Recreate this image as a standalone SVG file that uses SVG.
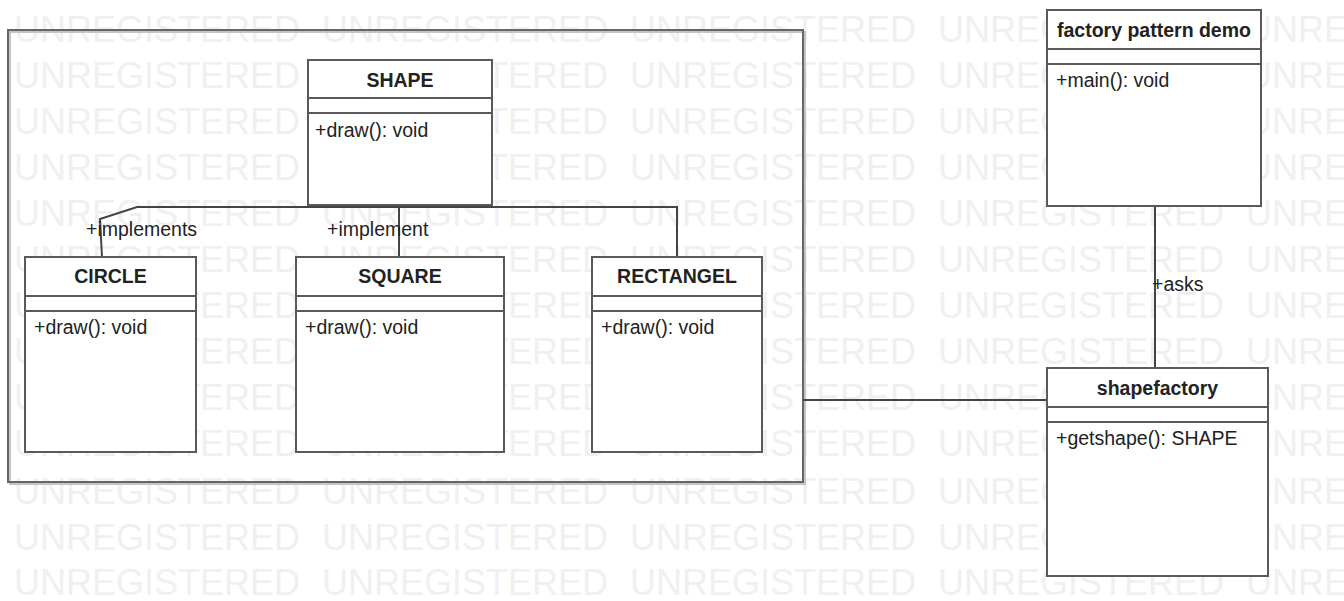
<svg xmlns="http://www.w3.org/2000/svg" width="1344" height="601" viewBox="0 0 1344 601">
<style>
.wm{font-family:"Liberation Sans",Arial,sans-serif;font-size:36px;fill:#f0f0f0}
.box{fill:#fff;stroke:#5a5a5a;stroke-width:2}
.sep{stroke:#5a5a5a;stroke-width:2}
.title{font-family:"Liberation Sans",Arial,sans-serif;font-size:19.5px;font-weight:bold;fill:#222;text-anchor:middle}
.op{font-family:"Liberation Sans",Arial,sans-serif;font-size:19.5px;fill:#222}
.lbl{font-family:"Liberation Sans",Arial,sans-serif;font-size:19.5px;fill:#222}
.cn{fill:none;stroke:#444;stroke-width:2}
</style>
<rect width="1344" height="601" fill="#fff"/>
<g id="watermark">
<text class="wm" y="42"><tspan x="14">UNREGISTERED</tspan><tspan x="322">UNREGISTERED</tspan><tspan x="630">UNREGISTERED</tspan><tspan x="938">UNREGISTERED</tspan><tspan x="1246">UNRE</tspan></text>
<text class="wm" y="88"><tspan x="14">UNREGISTERED</tspan><tspan x="322">UNREGISTERED</tspan><tspan x="630">UNREGISTERED</tspan><tspan x="938">UNREGISTERED</tspan><tspan x="1246">UNRE</tspan></text>
<text class="wm" y="134"><tspan x="14">UNREGISTERED</tspan><tspan x="322">UNREGISTERED</tspan><tspan x="630">UNREGISTERED</tspan><tspan x="938">UNREGISTERED</tspan><tspan x="1246">UNRE</tspan></text>
<text class="wm" y="180"><tspan x="14">UNREGISTERED</tspan><tspan x="322">UNREGISTERED</tspan><tspan x="630">UNREGISTERED</tspan><tspan x="938">UNREGISTERED</tspan><tspan x="1246">UNRE</tspan></text>
<text class="wm" y="226"><tspan x="14">UNREGISTERED</tspan><tspan x="322">UNREGISTERED</tspan><tspan x="630">UNREGISTERED</tspan><tspan x="938">UNREGISTERED</tspan><tspan x="1246">UNRE</tspan></text>
<text class="wm" y="272"><tspan x="14">UNREGISTERED</tspan><tspan x="322">UNREGISTERED</tspan><tspan x="630">UNREGISTERED</tspan><tspan x="938">UNREGISTERED</tspan><tspan x="1246">UNRE</tspan></text>
<text class="wm" y="318"><tspan x="14">UNREGISTERED</tspan><tspan x="322">UNREGISTERED</tspan><tspan x="630">UNREGISTERED</tspan><tspan x="938">UNREGISTERED</tspan><tspan x="1246">UNRE</tspan></text>
<text class="wm" y="364"><tspan x="14">UNREGISTERED</tspan><tspan x="322">UNREGISTERED</tspan><tspan x="630">UNREGISTERED</tspan><tspan x="938">UNREGISTERED</tspan><tspan x="1246">UNRE</tspan></text>
<text class="wm" y="410"><tspan x="14">UNREGISTERED</tspan><tspan x="322">UNREGISTERED</tspan><tspan x="630">UNREGISTERED</tspan><tspan x="938">UNREGISTERED</tspan><tspan x="1246">UNRE</tspan></text>
<text class="wm" y="456"><tspan x="14">UNREGISTERED</tspan><tspan x="322">UNREGISTERED</tspan><tspan x="630">UNREGISTERED</tspan><tspan x="938">UNREGISTERED</tspan><tspan x="1246">UNRE</tspan></text>
<text class="wm" y="504"><tspan x="14">UNREGISTERED</tspan><tspan x="322">UNREGISTERED</tspan><tspan x="630">UNREGISTERED</tspan><tspan x="938">UNREGISTERED</tspan><tspan x="1246">UNRE</tspan></text>
<text class="wm" y="550"><tspan x="14">UNREGISTERED</tspan><tspan x="322">UNREGISTERED</tspan><tspan x="630">UNREGISTERED</tspan><tspan x="938">UNREGISTERED</tspan><tspan x="1246">UNRE</tspan></text>
<text class="wm" y="595"><tspan x="14">UNREGISTERED</tspan><tspan x="322">UNREGISTERED</tspan><tspan x="630">UNREGISTERED</tspan><tspan x="938">UNREGISTERED</tspan><tspan x="1246">UNRE</tspan></text>
</g>
<g id="package">
<rect x="10" y="32" width="795" height="452" fill="none" stroke="#c4c4c4" stroke-width="2"/>
<rect x="8" y="30" width="795" height="452" fill="none" stroke="#666" stroke-width="2"/>
</g>
<g id="connectors">
<polyline class="cn" points="677,257 677,207 137,207 100,219 102,257"/>
<line class="cn" x1="399" y1="205" x2="399" y2="257"/>
<line class="cn" x1="1155" y1="206" x2="1155" y2="368"/>
<line class="cn" x1="803" y1="400" x2="1056" y2="400"/>
<text class="lbl" x="86" y="236">+implements</text>
<text class="lbl" x="327" y="236">+implement</text>
<text class="lbl" x="1152" y="291">+asks</text>
</g>
<g id="shape">
<rect class="box" x="308" y="60" width="184" height="145"/>
<line class="sep" x1="308" y1="98" x2="492" y2="98"/>
<line class="sep" x1="308" y1="113" x2="492" y2="113"/>
<text class="title" x="400" y="87">SHAPE</text>
<text class="op" x="315" y="137">+draw(): void</text>
</g>
<g id="circle">
<rect class="box" x="25" y="257" width="171" height="195"/>
<line class="sep" x1="25" y1="296" x2="196" y2="296"/>
<line class="sep" x1="25" y1="311" x2="196" y2="311"/>
<text class="title" x="110.5" y="283">CIRCLE</text>
<text class="op" x="34" y="334">+draw(): void</text>
</g>
<g id="square">
<rect class="box" x="296" y="257" width="208" height="195"/>
<line class="sep" x1="296" y1="296" x2="504" y2="296"/>
<line class="sep" x1="296" y1="311" x2="504" y2="311"/>
<text class="title" x="400" y="283">SQUARE</text>
<text class="op" x="305" y="334">+draw(): void</text>
</g>
<g id="rectangel">
<rect class="box" x="592" y="257" width="170" height="195"/>
<line class="sep" x1="592" y1="296" x2="762" y2="296"/>
<line class="sep" x1="592" y1="311" x2="762" y2="311"/>
<text class="title" x="677" y="283">RECTANGEL</text>
<text class="op" x="601" y="334">+draw(): void</text>
</g>
<g id="factory-pattern-demo">
<rect class="box" x="1047" y="10" width="214" height="196"/>
<line class="sep" x1="1047" y1="49" x2="1261" y2="49"/>
<line class="sep" x1="1047" y1="64" x2="1261" y2="64"/>
<text class="title" x="1154" y="37">factory pattern demo</text>
<text class="op" x="1056" y="87">+main(): void</text>
</g>
<g id="shapefactory">
<rect class="box" x="1047" y="368" width="221" height="208"/>
<line class="sep" x1="1047" y1="407" x2="1268" y2="407"/>
<line class="sep" x1="1047" y1="422" x2="1268" y2="422"/>
<text class="title" x="1157.5" y="395">shapefactory</text>
<text class="op" x="1056" y="445">+getshape(): SHAPE</text>
</g>
</svg>
